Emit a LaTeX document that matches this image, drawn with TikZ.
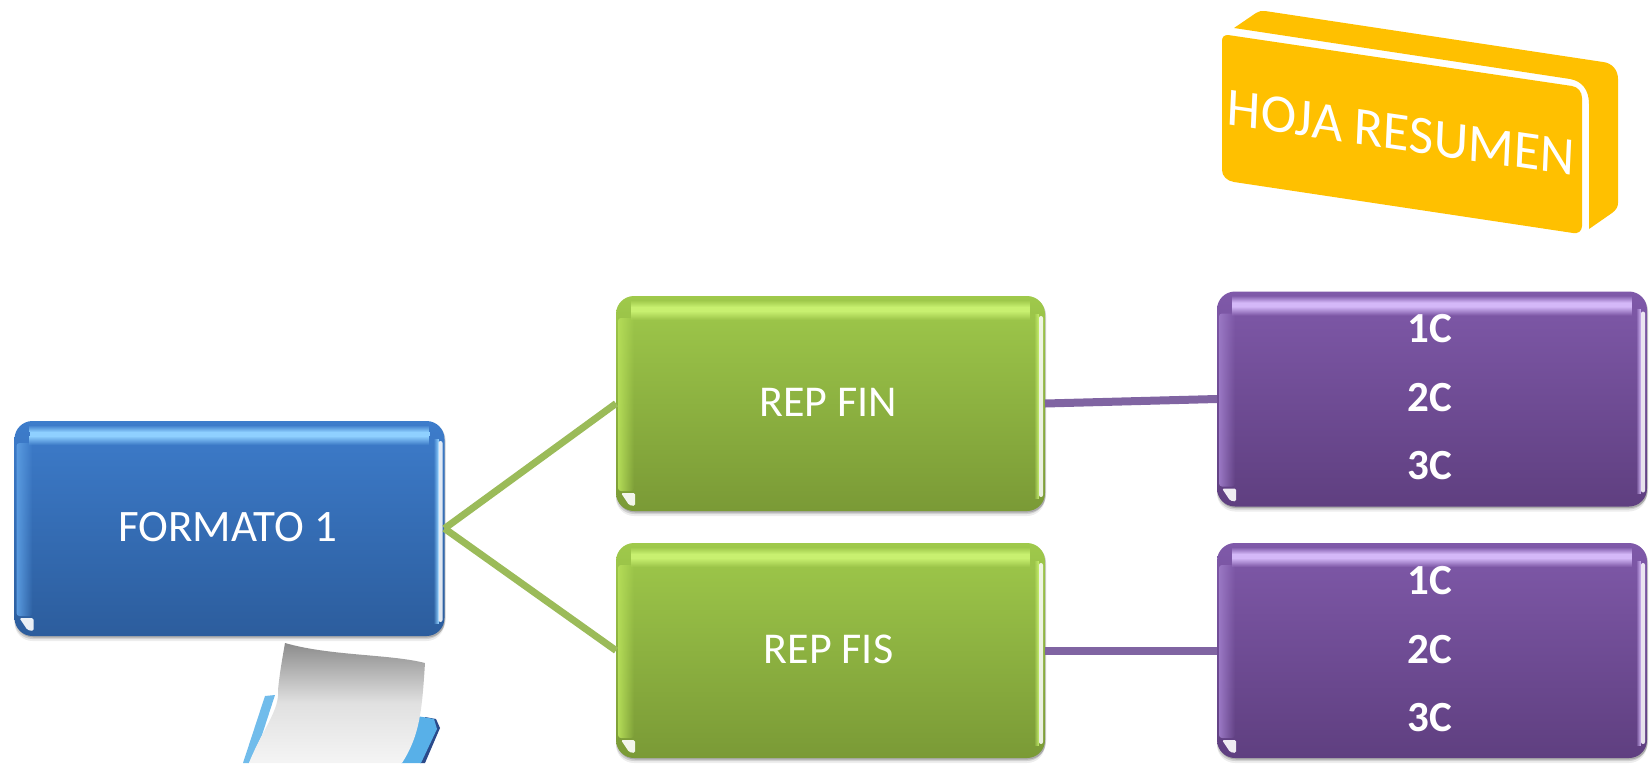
\documentclass[tikz,border=0pt]{standalone}
\usepackage{fontspec}
\setmainfont{Carlito}
\usetikzlibrary{shadows,fadings}
\definecolor{bluetop}{HTML}{3D7CCB}
\definecolor{bluebot}{HTML}{2C5D9D}
\definecolor{bluelight}{HTML}{8FD0FF}
\definecolor{blueside}{HTML}{5A9BE0}
\definecolor{greentop}{HTML}{9FC94B}
\definecolor{greenbot}{HTML}{7A9A36}
\definecolor{greenlight}{HTML}{C8F070}
\definecolor{greenside}{HTML}{B4DC58}
\definecolor{purptop}{HTML}{7F59A9}
\definecolor{purpbot}{HTML}{5F3F80}
\definecolor{purplight}{HTML}{D4B8F8}
\definecolor{purpside}{HTML}{9A78C4}
\definecolor{linkgreen}{HTML}{9BBB59}
\definecolor{linkpurple}{HTML}{8064A2}
\definecolor{amber}{HTML}{FFC000}
\definecolor{tabblue}{HTML}{58B0E8}
\definecolor{tabdark}{HTML}{2B4A8A}
\tikzset{
  softshade/.style={
    general shadow={shadow xshift=0pt,shadow yshift=-5pt,opacity=.07,fill=black},
    general shadow={shadow xshift=0pt,shadow yshift=-3pt,opacity=.12,fill=black},
    general shadow={shadow xshift=1pt,shadow yshift=-1.5pt,opacity=.18,fill=black}},
  gloss/.style={rectangle,rounded corners=18pt,inner sep=0pt,outer sep=0pt,
    minimum width=#1,text=white,softshade},
  bluebox/.style={gloss=430pt,minimum height=215pt,top color=bluetop,bottom color=bluebot,
    font=\fontsize{45}{45}\selectfont},
  greenbox/.style={gloss=429pt,minimum height=215pt,top color=greentop,bottom color=greenbot,
    font=\fontsize{44}{44}\selectfont},
  purplebox/.style={gloss=430pt,minimum height=215pt,top color=purptop,bottom color=purpbot,
    align=center,font=\fontsize{43}{68.5}\selectfont\bfseries},
  glink/.style={draw=linkgreen,line width=7pt},
  plink/.style={draw=linkpurple,line width=8pt},
}
% bevel details of a glossy box: name, width, height, base colour, highlight, side colour
\newcommand{\bevel}[6]{%
  \begin{scope}[shift={(#1.north west)}]
    \fill[#5,path fading=north] (15,4) rectangle (#2-15,11);
    \fill[#5] (15,11) rectangle (#2-15,15);
    \fill[#5,path fading=south] (15,15) rectangle (#2-15,24);
    \fill[#6,path fading=east,rounded corners=3pt] (2,22) rectangle (18,#3-20);
    \fill[#5,path fading=west] (#2-11,18) rectangle (#2-6,#3-12);
    \fill[white,opacity=.85,rounded corners=2pt] (#2-6,20) rectangle (#2-2,#3-14);
    \fill[white,opacity=.9,rounded corners=1.5pt]
      (5,#3-18) -- (19,#3-18) -- (19,#3-5) -- (13,#3-6) -- cycle;
  \end{scope}}
\begin{document}
\begin{tikzpicture}[x=1pt,y=-1pt]
\useasboundingbox (0,0) rectangle (1651,763);
% paper clip-art
\fill[tabblue!85!white] (265,696) -- (275,695) -- (262,735) -- (249,763) -- (243,763) -- cycle;
\fill[tabdark] (425,717) -- (436,719) -- (440,728) -- (425,763) -- (420,763) -- cycle;
\fill[tabblue] (417,716) -- (434,719) -- (437,729) -- (421,763) -- (401,763) -- cycle;
\shade[top color=black!45,bottom color=black!4,middle color=black!12]
  (285,643) .. controls (330,656) and (390,654) .. (425,663)
  .. controls (422,710) and (420,735) .. (402,763)
  -- (249,763) .. controls (262,730) and (280,710) .. (278,690)
  .. controls (280,670) and (283,655) .. (285,643) -- cycle;
% boxes
\node[bluebox] (fmt) at (229.5,528.5) {\raisebox{3pt}{\hspace*{-4pt}FORMATO 1}};
\node[greenbox] (fin) at (830.5,403.5) {\raisebox{2pt}{\hspace*{-4pt}REP FIN}};
\node[greenbox] (fis) at (830.5,650.5) {\raisebox{2pt}{\hspace*{-4pt}REP FIS}};
\node[purplebox] (pa) at (1432,399) {\raisebox{4pt}{\hspace*{-4pt}1C}\\\raisebox{4pt}{\hspace*{-4pt}2C}\\\raisebox{4pt}{\hspace*{-4pt}3C}};
\node[purplebox] (pb) at (1432,650.5) {\raisebox{3pt}{\hspace*{-4pt}1C}\\\raisebox{3pt}{\hspace*{-4pt}2C}\\\raisebox{3pt}{\hspace*{-4pt}3C}};
\bevel{fmt}{430}{215}{bluetop}{bluelight}{blueside}
\bevel{fin}{429}{215}{greentop}{greenlight}{greenside}
\bevel{fis}{429}{215}{greentop}{greenlight}{greenside}
\bevel{pa}{430}{215}{purptop}{purplight}{purpside}
\bevel{pb}{430}{215}{purptop}{purplight}{purpside}
% connectors
\draw[glink] (fmt.east) -- (fin.west);
\draw[glink] (fmt.east) -- (fis.west);
\draw[plink] (fin.east) -- (pa.west);
\draw[plink] (fis.east) -- (pb.west);
% resumen block
\fill[amber] (1234,28) -- (1256,13) .. controls (1259,11) and (1262,10.5) .. (1265,11)
  -- (1603,62) .. controls (1612,63) and (1618,70) .. (1618,79)
  -- (1618,203) .. controls (1618,207) and (1616,210) .. (1612,213)
  -- (1589,229) -- (1589,104) .. controls (1589,90) and (1582,81) .. (1570,79) -- cycle;
\fill[amber] (1228,35) -- (1572,86) .. controls (1578,87) and (1582,92) .. (1582,98)
  -- (1582,226) .. controls (1582,231) and (1578,234) .. (1573,233)
  -- (1234,182) .. controls (1227,181) and (1222,176) .. (1222,170)
  -- (1222,41) .. controls (1222,37) and (1224,35) .. (1228,35) -- cycle;
\node[cm={.989,-.146,.045,.999,(0,0)},transform shape,text=white,inner sep=0pt,font=\fontsize{54}{54}\selectfont] (hoja) at (1401,133) {HOJA RESUMEN};
\end{tikzpicture}
\end{document}
